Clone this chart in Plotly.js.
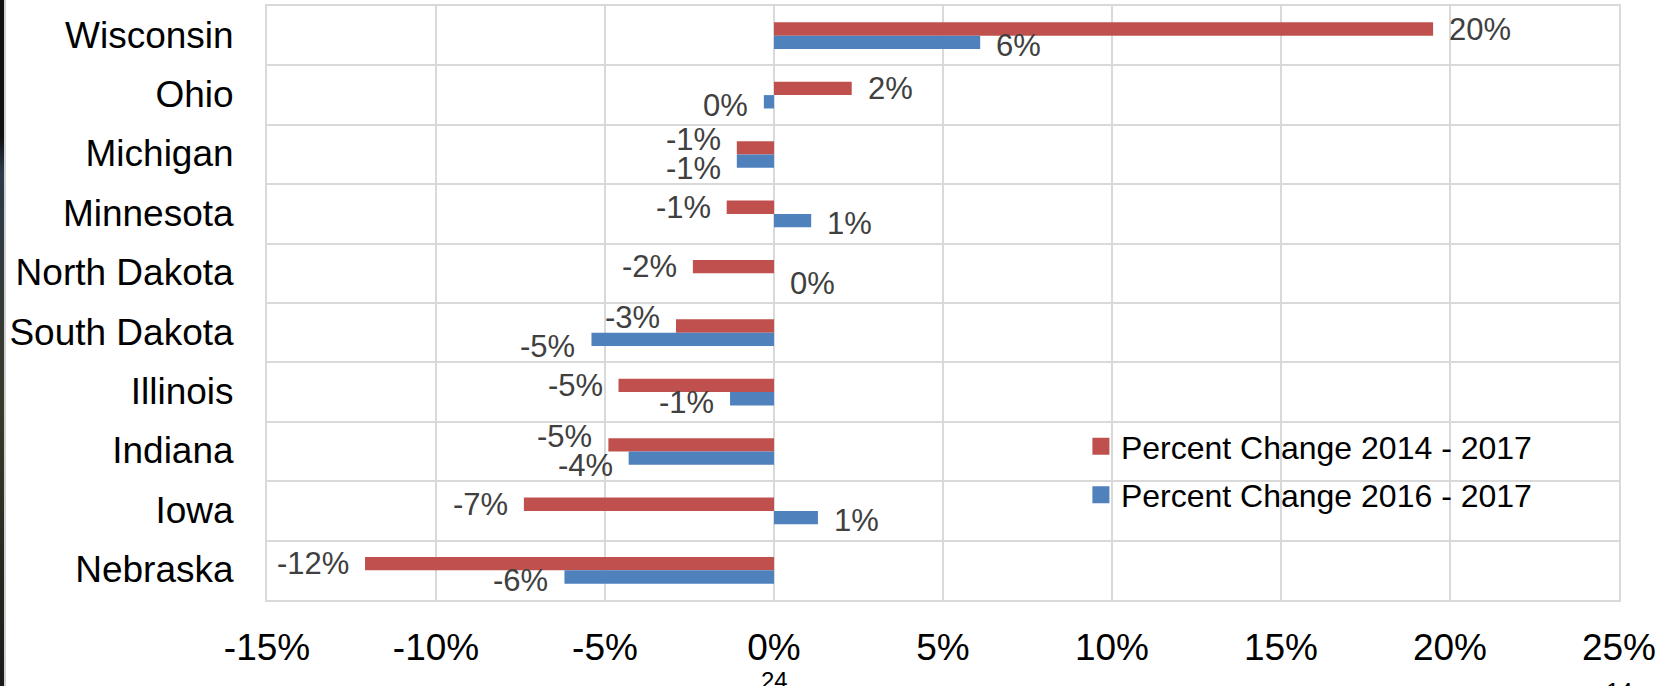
<!DOCTYPE html>
<html>
<head>
<meta charset="utf-8">
<script src="https://cdn.plot.ly/plotly-3.0.1.min.js"></script>
<style>
  html, body { margin: 0; padding: 0; background: #ffffff; }
  #chart { width: 1662px; height: 686px; }
  #edge { position: absolute; left: 0; top: 0; width: 4px; height: 686px;
          background: linear-gradient(#111 0%, #111 20%, #2b3a4a 25%, #3a3a2a 60%, #1a1a1a 100%); }
  #edge2 { position: absolute; left: 4px; top: 0; width: 2px; height: 686px; background: #d0d0d0; }
</style>
</head>
<body>
<div id="chart"></div>
<div id="edge"></div>
<div id="edge2"></div>
<script>
// ---- data ----
const states = ["Wisconsin", "Ohio", "Michigan", "Minnesota", "North Dakota",
                "South Dakota", "Illinois", "Indiana", "Iowa", "Nebraska"];
const change2014to2017 = [19.5, 2.3, -1.1, -1.4, -2.4, -2.9, -4.6, -4.9, -7.4, -12.1];
const change2016to2017 = [6.1, -0.3, -1.1, 1.1, 0.0, -5.4, -1.3, -4.3, 1.3, -6.2];
const seriesNames = ["Percent Change 2014 - 2017", "Percent Change 2016 - 2017"];
const xTickVals = [-15, -10, -5, 0, 5, 10, 15, 20, 25];
const xTickText = ["-15%", "-10%", "-5%", "0%", "5%", "10%", "15%", "20%", "25%"];
const pageNumbers = ["24", "14"];

const RED = "#C0504D", BLUE = "#4F81BD", GRID = "#d9d9d9";
const FONT = "Liberation Sans, Arial, sans-serif";
const LABEL_SIZE = 31, LABEL_PAD = 14;
const MARGIN = { l: 267, r: 43, t: 6, b: 86 };
const X_RANGE = [-15, 25];

const traces = [
  { type: "bar", orientation: "h", name: seriesNames[0], y: states, x: change2014to2017,
    marker: { color: RED }, legendgroup: "a", hoverinfo: "x+y" },
  { type: "bar", orientation: "h", name: seriesNames[1], y: states, x: change2016to2017,
    marker: { color: BLUE }, legendgroup: "b", hoverinfo: "x+y" }
];

// ---- data labels at each bar end (placed through the axes) ----
const pxPerUnit = (1662 - MARGIN.l - MARGIN.r) / (X_RANGE[1] - X_RANGE[0]);
const fmt = v => Math.round(v) + "%";
function labelSpan(v) {           // horizontal extent of a label, in axis units
  const w = fmt(v).length * 0.6 * LABEL_SIZE / pxPerUnit;
  const p = LABEL_PAD / pxPerUnit;
  return v >= 0 ? [v + p, v + p + w] : [v - p - w, v - p];
}
const overlaps = (a, b) => a[0] < b[1] && b[0] < a[1];

const annotations = [];
function addLabel(v, cat, yshift) {
  const pos = v >= 0;
  annotations.push({
    x: v, y: cat, xref: "x", yref: "y",
    text: fmt(v), showarrow: false,
    xanchor: pos ? "left" : "right", yanchor: "middle",
    xshift: pos ? LABEL_PAD : -LABEL_PAD, yshift: yshift,
    font: { family: FONT, size: LABEL_SIZE, color: "#404040" }
  });
}
states.forEach((s, i) => {
  const r = change2014to2017[i], b = change2016to2017[i];
  const rSpan = labelSpan(r), bSpan = labelSpan(b);
  const bBar = [Math.min(b, 0), Math.max(b, 0)];
  const crowded = overlaps(rSpan, bSpan) || overlaps(rSpan, bBar);
  addLabel(r, s, crowded ? 15 : 6.5);
  addLabel(b, s, crowded ? -14 : -10);
});

annotations.push({ xref: "paper", yref: "paper", x: 0.375, y: -0.136, text: pageNumbers[0],
  showarrow: false, xanchor: "center", yanchor: "middle",
  font: { family: FONT, size: 24, color: "#000" } });
annotations.push({ xref: "paper", yref: "paper", x: 1.0, y: -0.128, text: pageNumbers[1],
  showarrow: false, xanchor: "center", yanchor: "top",
  font: { family: FONT, size: 24, color: "#000" } });

const layout = {
  width: 1662, height: 686,
  margin: Object.assign({ pad: 0, autoexpand: false }, MARGIN),
  paper_bgcolor: "#ffffff", plot_bgcolor: "#ffffff",
  barmode: "group", bargap: 0.55, bargroupgap: 0,
  font: { family: FONT, color: "#000" },
  showlegend: true,
  legend: {
    x: 0.602, y: 0.305, xanchor: "left", yanchor: "top",
    bgcolor: "rgba(0,0,0,0)", borderwidth: 0,
    font: { family: FONT, size: 32, color: "#000" },
    traceorder: "grouped", tracegroupgap: 4
  },
  xaxis: {
    range: X_RANGE, autorange: false, tickvals: xTickVals, ticktext: xTickText,
    showgrid: true, gridcolor: GRID, gridwidth: 2, automargin: false,
    zeroline: false, showline: true, linecolor: GRID, linewidth: 2, mirror: true,
    ticks: "", ticklabelstandoff: 14,
    tickfont: { family: FONT, size: 37, color: "#000" }, fixedrange: true
  },
  yaxis: {
    type: "category", categoryorder: "array", categoryarray: states,
    range: [states.length - 0.5, -0.5], autorange: false,
    tickson: "boundaries", automargin: false,
    showgrid: true, gridcolor: GRID, gridwidth: 2,
    showline: true, linecolor: GRID, linewidth: 2, mirror: true,
    ticks: "", ticklabelstandoff: 24, ticklabelshift: 1,
    tickfont: { family: FONT, size: 37, color: "#000" }, fixedrange: true
  },
  annotations: annotations
};

Plotly.newPlot("chart", traces, layout, { displayModeBar: false, staticPlot: true }).then(function (gd) {
  gd.querySelectorAll(".legendpoints path").forEach(function (p) {
    p.setAttribute("d", "M8.5,8.5H-8.5V-8.5H8.5Z");
  });
});
</script>
</body>
</html>
